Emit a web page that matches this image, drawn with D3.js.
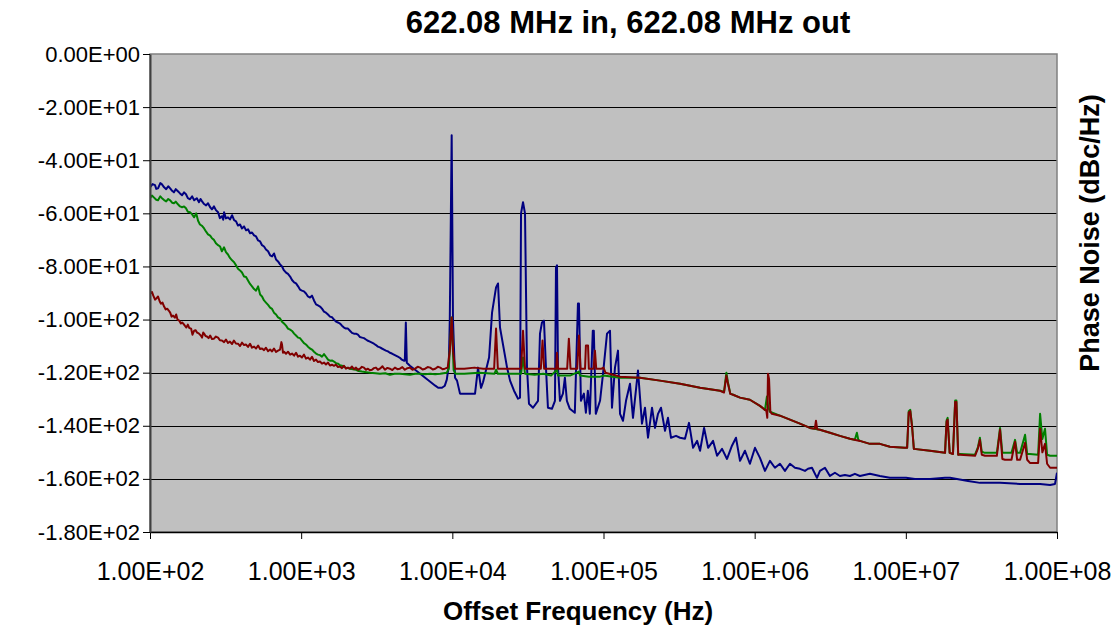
<!DOCTYPE html>
<html><head><meta charset="utf-8">
<script src="https://cdn.jsdelivr.net/npm/d3@7/dist/d3.min.js"></script>
<style>body{margin:0;background:#fff}svg{display:block}text{font-family:"Liberation Sans",Arial,sans-serif;fill:#000}</style>
</head><body>
<svg id="c" width="1119" height="631"></svg>
<script>
const title = "622.08 MHz in, 622.08 MHz out";
const xTitle = "Offset Frequency (Hz)";
const yTitle = "Phase Noise (dBc/Hz)";
const xTickValues = [1e2,1e3,1e4,1e5,1e6,1e7,1e8];
const xTickLabels = ["1.00E+02","1.00E+03","1.00E+04","1.00E+05","1.00E+06","1.00E+07","1.00E+08"];
const yTickValues = [0,-20,-40,-60,-80,-100,-120,-140,-160,-180];
const yTickLabels = ["0.00E+00","-2.00E+01","-4.00E+01","-6.00E+01","-8.00E+01","-1.00E+02","-1.20E+02","-1.40E+02","-1.60E+02","-1.80E+02"];

const blueSeries = [[100,-50.2],[104,-49.0],[108,-49.4],[110,-50.8],[113,-50.6],[117,-48.6],[120,-49.1],[124,-50.2],[128,-50.9],[132,-49.8],[136,-50.6],[140,-51.5],[144,-52.1],[148,-50.9],[153,-51.7],[158,-52.5],[163,-53.2],[168,-52.1],[173,-52.8],[178,-54.3],[184,-54.7],[190,-53.6],[196,-55.1],[204,-54.3],[211,-55.8],[216,-54.6],[221,-55.5],[228,-56.5],[235,-57.0],[242,-56.2],[250,-57.7],[257,-58.5],[265,-57.4],[273,-58.8],[282,-59.6],[290,-61.8],[299,-61.1],[305,-62.4],[309,-59.6],[318,-61.9],[328,-61.5],[338,-62.3],[349,-60.7],[360,-62.6],[371,-63.0],[382,-64.6],[394,-64.2],[406,-65.7],[419,-64.9],[432,-66.4],[445,-66.0],[459,-67.5],[473,-67.2],[488,-68.3],[503,-68.7],[519,-70.2],[535,-70.6],[551,-72.0],[568,-72.5],[585,-73.6],[604,-74.3],[623,-75.8],[642,-76.2],[661,-75.1],[682,-77.4],[703,-78.1],[725,-79.2],[747,-80.0],[770,-81.5],[794,-82.3],[818,-82.8],[845,-83.8],[870,-85.1],[898,-86.0],[925,-86.4],[954,-87.5],[982,-88.7],[1012,-89.1],[1044,-89.4],[1076,-90.2],[1109,-91.3],[1144,-91.7],[1179,-91.0],[1216,-92.8],[1254,-94.3],[1292,-94.7],[1332,-95.1],[1373,-95.9],[1416,-97.0],[1459,-97.4],[1505,-98.1],[1551,-98.9],[1599,-99.1],[1648,-100.0],[1700,-100.8],[1751,-101.1],[1806,-101.5],[1861,-102.3],[1920,-103.0],[1978,-103.4],[2040,-103.4],[2102,-104.2],[2168,-105.0],[2234,-105.3],[2305,-105.3],[2374,-105.7],[2450,-106.6],[2523,-106.8],[2602,-107.0],[2682,-107.5],[2766,-108.0],[2850,-108.3],[2939,-108.7],[3029,-109.1],[3124,-109.6],[3218,-110.2],[3320,-110.5],[3420,-110.9],[3530,-111.3],[3635,-111.7],[3750,-112.0],[3863,-112.5],[3985,-112.8],[4105,-113.2],[4230,-113.6],[4363,-114.0],[4500,-114.4],[4636,-115.1],[4776,-115.5],[4850,-115.5],[4925,-101.1],[5000,-116.3],[5240,-117.4],[5670,-118.9],[6125,-120.4],[6610,-121.9],[7140,-123.4],[7710,-124.9],[8060,-125.7],[8540,-125.7],[8920,-124.9],[9190,-122.6],[9470,-117.4],[9620,-100],[9900,-30.6],[10100,-100],[10420,-121.9],[10740,-123.0],[11240,-127.9],[12130,-127.9],[13090,-127.9],[14130,-127.9],[14790,-118.1],[15480,-125.7],[15960,-123.6],[17500,-114.3],[18310,-97.4],[19460,-87.9],[20060,-86.4],[20670,-103.0],[23020,-118.1],[24090,-123.0],[25590,-126.8],[27210,-129.8],[28040,-129.4],[28470,-60.0],[29350,-55.8],[30250,-60.0],[31180,-118.1],[32140,-131.7],[34160,-133.2],[36890,-130.6],[38010,-105.3],[39180,-101.1],[40380,-100.4],[41620,-118.1],[42900,-133.2],[45590,-133.6],[47740,-130.6],[48490,-80.4],[49240,-79.6],[50000,-118.1],[51530,-130.6],[53900,-127.9],[55550,-121.9],[57250,-130.6],[59880,-133.6],[64620,-135.1],[67760,-94.0],[68800,-94.0],[70910,-130.6],[74180,-127.9],[76460,-135.1],[78800,-126.8],[81220,-135.5],[84960,-104.2],[86280,-104.2],[88930,-135.5],[94840,-130.6],[99300,-120.4],[105500,-105.3],[110400,-104.2],[113800,-133.2],[119100,-118.1],[124700,-111.7],[128600,-135.5],[134600,-138.1],[140900,-130.6],[149700,-124.2],[156700,-137.0],[169100,-119.2],[179700,-139.2],[188100,-133.2],[197000,-144.5],[209400,-133.2],[219200,-140.8],[229400,-135.5],[240100,-133.2],[255200,-141.9],[267100,-137.0],[279600,-144.5],[301800,-143.8],[320800,-144.5],[346000,-144.9],[367900,-138.9],[391200,-148.3],[415900,-145.7],[435300,-149.4],[462800,-140.8],[492000,-148.3],[530700,-145.7],[564200,-151.3],[608500,-148.7],[656300,-152.5],[707700,-147.5],[752400,-144.5],[800000,-153.2],[862700,-149.4],[930000,-154.3],[1005000,-148.3],[1084000,-152.1],[1170000,-157.0],[1262000,-153.2],[1362000,-155.8],[1470000,-154.3],[1586000,-157.0],[1712000,-154.3],[1847000,-155.8],[1993000,-156.2],[2151000,-157.0],[2254000,-156.2],[2394000,-155.8],[2583000,-159.6],[2703000,-157.0],[2917000,-155.8],[3147000,-158.9],[3396000,-157.7],[3664000,-158.9],[3954000,-158.5],[4267000,-158.9],[4604000,-158.1],[4968000,-158.9],[5785000,-158.1],[6736000,-158.9],[7844000,-159.6],[9134000,-159.6],[10030000,-159.6],[11500000,-160.0],[14450000,-160.0],[18170000,-159.6],[19600000,-159.6],[25800000,-160.8],[30940000,-161.5],[42000000,-161.5],[56980000,-161.9],[77330000,-161.9],[90000000,-162.3],[97000000,-161.9],[100000000,-157.7]];

const greenSeries = [[100,-54.3],[103,-53.3],[106,-54.0],[110,-54.9],[113,-55.1],[117,-53.6],[120,-54.3],[124,-55.0],[128,-55.5],[132,-54.6],[136,-55.1],[140,-56.0],[144,-56.2],[148,-55.6],[153,-56.6],[158,-57.4],[163,-57.7],[168,-57.4],[173,-58.1],[178,-59.4],[184,-59.6],[190,-60.4],[196,-61.5],[202,-60.0],[208,-62.8],[214,-64.2],[221,-64.7],[228,-65.7],[235,-66.9],[242,-67.9],[250,-68.4],[257,-69.4],[265,-70.0],[273,-71.3],[282,-72.0],[291,-72.5],[299,-74.3],[309,-72.8],[318,-74.6],[328,-75.5],[338,-76.8],[349,-77.7],[360,-78.4],[371,-79.6],[382,-80.9],[394,-81.5],[406,-82.3],[419,-83.8],[432,-84.0],[445,-85.3],[459,-86.6],[473,-87.5],[488,-88.5],[503,-89.1],[519,-87.5],[535,-90.6],[551,-91.3],[568,-92.8],[585,-93.6],[604,-94.5],[623,-95.5],[642,-96.0],[661,-97.4],[682,-98.1],[703,-99.2],[725,-99.6],[747,-100.8],[770,-101.5],[794,-102.3],[818,-103.4],[845,-103.8],[870,-104.3],[898,-105.3],[925,-106.0],[954,-106.8],[982,-107.0],[1012,-107.9],[1044,-108.9],[1076,-109.4],[1109,-110.2],[1144,-110.9],[1179,-111.3],[1216,-112.1],[1254,-112.8],[1292,-113.2],[1332,-113.4],[1373,-114.0],[1416,-113.0],[1459,-114.0],[1505,-115.1],[1551,-115.5],[1599,-115.4],[1648,-115.8],[1700,-116.4],[1751,-116.6],[1806,-117.2],[1861,-117.4],[1920,-117.8],[1978,-118.1],[2040,-118.3],[2102,-118.5],[2200,-118.7],[2305,-118.9],[2400,-119.4],[2523,-119.6],[2700,-119.8],[2850,-120.0],[3100,-120.2],[3320,-120.4],[3600,-120.2],[3863,-120.8],[4150,-120.4],[4500,-120.4],[4850,-120.6],[5240,-120.8],[5670,-120.4],[6125,-120.4],[6600,-120.6],[7140,-120.4],[7700,-120.6],[8320,-120.4],[9190,-120.0],[9470,-118.5],[9900,-99.2],[10200,-119.0],[10500,-120.4],[12000,-120.4],[15000,-120.0],[19000,-120.4],[19460,-118.9],[20000,-120.4],[25000,-120.4],[28500,-120.4],[29350,-114.3],[30250,-120.4],[35000,-120.8],[40000,-120.4],[45000,-121.1],[49240,-118.9],[50000,-121.1],[60000,-121.1],[68800,-119.6],[70000,-121.1],[80000,-121.5],[95000,-121.5],[100000,-121.1],[128600,-121.9],[174400,-121.9],[236500,-123.0],[320800,-124.2],[435300,-125.7],[590000,-126.8],[627000,-127.2],[650000,-120.0],[665000,-123.5],[690000,-127.9],[720000,-128.3],[800000,-129.4],[930000,-130.2],[1084000,-132.5],[1170000,-134.0],[1205000,-129.0],[1225000,-132.5],[1260000,-134.7],[1470000,-136.2],[1712000,-137.7],[1993000,-139.2],[2321000,-140.8],[2703000,-141.5],[3147000,-142.6],[3664000,-143.8],[4267000,-144.9],[4600000,-145.3],[4744000,-142.6],[4850000,-145.3],[4968000,-145.7],[5785000,-146.8],[6736000,-146.8],[7844000,-147.9],[9800000,-148.3],[10200000,-148.3],[10450000,-134.5],[10700000,-134.0],[11000000,-140.0],[11300000,-148.7],[14450000,-149.4],[18170000,-150.2],[18600000,-138.0],[18900000,-137.0],[19500000,-150.2],[20500000,-150.6],[21200000,-130.5],[21600000,-130.5],[22200000,-150.9],[22830000,-150.6],[28690000,-150.9],[30000000,-148],[30900000,-144.5],[31800000,-149.8],[33400000,-150.2],[40000000,-150.2],[42000000,-140.8],[43500000,-150.2],[45300000,-150.2],[50000000,-150.2],[52800000,-145.3],[54500000,-150.2],[57000000,-150.2],[61500000,-143.4],[63500000,-150.6],[66200000,-150.6],[75000000,-150.9],[77300000,-135.5],[80000000,-145],[83300000,-141.1],[86000000,-150.9],[90000000,-151.3],[100000000,-151.3]];

const redSeries = [[100,-90.2],[103,-89.6],[105,-90.9],[108,-92.5],[110,-92.1],[113,-91.3],[116,-93.2],[118,-94.0],[121,-93.6],[124,-95.1],[127,-96.2],[130,-95.9],[133,-96.6],[136,-97.4],[139,-98.9],[142,-98.5],[146,-99.3],[149,-98.1],[152,-100.0],[156,-100.4],[160,-101.5],[163,-101.1],[167,-101.7],[170,-102.3],[174,-103.0],[178,-101.9],[182,-103.2],[187,-103.4],[191,-105.7],[196,-104.2],[200,-104.0],[205,-104.9],[210,-105.2],[214,-105.7],[218,-106.2],[221,-106.8],[225,-104.9],[228,-105.3],[233,-106.2],[238,-106.4],[244,-107.0],[250,-106.0],[257,-107.3],[265,-107.2],[273,-106.4],[282,-106.8],[290,-107.8],[299,-107.9],[309,-108.5],[318,-107.5],[328,-108.8],[338,-108.3],[349,-109.2],[359,-107.9],[370,-109.0],[382,-109.1],[394,-110.0],[406,-108.7],[419,-109.6],[432,-109.4],[445,-110.3],[459,-109.1],[473,-110.6],[488,-110.2],[503,-110.9],[519,-109.8],[535,-111.1],[551,-110.9],[568,-111.5],[585,-110.6],[604,-111.9],[623,-111.3],[642,-112.0],[661,-110.9],[682,-112.2],[703,-111.7],[725,-111.3],[740,-108.5],[747,-109.4],[758,-112.5],[770,-112.1],[794,-112.9],[818,-112.1],[845,-113.2],[870,-112.8],[898,-113.6],[925,-112.5],[954,-114.0],[982,-113.6],[1012,-114.3],[1044,-113.2],[1076,-114.7],[1109,-114.3],[1144,-115.1],[1179,-114.0],[1216,-115.6],[1254,-115.1],[1292,-116.0],[1332,-115.8],[1373,-116.6],[1416,-116.2],[1459,-116.9],[1505,-116.2],[1551,-117.3],[1599,-117.0],[1648,-117.4],[1700,-117.0],[1751,-117.9],[1806,-117.7],[1861,-118.3],[1920,-117.4],[1978,-118.5],[2040,-118.1],[2102,-118.5],[2168,-117.7],[2234,-118.7],[2305,-118.1],[2374,-118.9],[2450,-118.5],[2523,-117.8],[2602,-118.1],[2682,-118.9],[2766,-118.5],[2850,-119.1],[2939,-118.9],[3029,-118.3],[3124,-118.1],[3218,-118.9],[3320,-118.5],[3450,-117.6],[3583,-118.9],[3720,-118.2],[3863,-118.5],[4010,-119.0],[4170,-118.1],[4330,-118.7],[4500,-118.5],[4670,-117.9],[4850,-118.9],[5040,-118.3],[5240,-118.1],[5450,-118.9],[5670,-118.5],[5900,-117.8],[6125,-118.1],[6360,-118.8],[6610,-118.5],[6870,-117.9],[7140,-118.1],[7420,-118.8],[7710,-118.5],[8010,-117.8],[8320,-118.1],[8620,-118.7],[8920,-118.5],[9320,-118.1],[9620,-111.7],[9900,-99.2],[10110,-111.7],[10420,-118.5],[12000,-118.5],[14000,-118.1],[16000,-118.5],[18900,-118.5],[19460,-103.4],[20000,-118.5],[24000,-118.5],[28500,-118.5],[29350,-104.2],[30250,-118.5],[35000,-118.5],[38500,-118.5],[39500,-107.9],[40500,-118.5],[45000,-118.5],[48700,-118.5],[49240,-112.5],[50000,-118.5],[57500,-118.5],[59000,-107.2],[60500,-118.5],[67000,-118.5],[68800,-106.0],[70500,-118.5],[75500,-118.5],[76500,-109.8],[79000,-109.8],[80000,-118.5],[86000,-118.5],[87800,-111.7],[89500,-118.5],[97000,-118.5],[100000,-118.1],[103000,-120.0],[128600,-121.5],[174400,-121.9],[236500,-123.0],[320800,-124.2],[435300,-125.7],[590000,-126.8],[627000,-127.5],[650000,-121.1],[665000,-124.0],[690000,-128.0],[720000,-128.3],[800000,-129.4],[930000,-130.2],[1084000,-132.5],[1170000,-134.0],[1195000,-134.4],[1212000,-137.0],[1225000,-120.4],[1245000,-122.5],[1270000,-134.7],[1300000,-135.5],[1470000,-136.2],[1712000,-137.7],[1993000,-139.2],[2321000,-140.8],[2500000,-141.1],[2544000,-138.1],[2590000,-141.3],[2703000,-141.5],[3147000,-142.6],[3664000,-143.8],[4267000,-144.9],[4968000,-145.7],[5785000,-146.8],[6736000,-146.8],[7844000,-147.9],[9800000,-148.3],[10200000,-148.3],[10450000,-135.0],[10700000,-134.5],[11000000,-140.5],[11300000,-148.7],[14450000,-149.4],[18170000,-150.2],[18600000,-138.5],[18900000,-137.7],[19500000,-150.2],[20500000,-150.6],[21200000,-131.0],[21600000,-131.0],[22200000,-150.9],[22830000,-150.9],[28690000,-151.3],[30000000,-148.5],[30900000,-145.3],[31800000,-150.9],[33400000,-151.3],[40000000,-151.3],[42000000,-141.5],[43500000,-152.5],[45300000,-152.8],[50000000,-152.8],[52800000,-146.0],[54500000,-152.8],[57000000,-152.8],[61500000,-146.4],[63500000,-152.8],[66200000,-154.0],[75000000,-154.0],[77300000,-141.1],[80000000,-150],[83300000,-146.8],[86000000,-154.3],[90000000,-155.8],[100000000,-155.8]];

const series = [
  {name:"blue", data: blueSeries, color:"#000080"},
  {name:"green", data: greenSeries, color:"#008000"},
  {name:"red", data: redSeries, color:"#800000"}
];

const L = 150, R = 1057, T = 54, B = 532;
const svg = d3.select("#c");
const x = d3.scaleLog().domain([1e2,1e8]).range([L,R]);
const y = d3.scaleLinear().domain([-180,0]).range([B,T]);

svg.append("rect").attr("x",L).attr("y",T).attr("width",R-L).attr("height",B-T).attr("fill","#c0c0c0");

svg.append("g").selectAll("line").data(yTickValues.filter(v=>v!==0 && v!==-180)).join("line")
  .attr("x1",L).attr("x2",R).attr("y1",d=>Math.round(y(d))+0.5).attr("y2",d=>Math.round(y(d))+0.5)
  .attr("stroke","#000").attr("stroke-width",1);

svg.append("rect").attr("x",L).attr("y",T).attr("width",R-L).attr("height",B-T)
  .attr("fill","none").attr("stroke","#808080").attr("stroke-width",1.5);

svg.append("defs").append("clipPath").attr("id","clip").append("rect")
  .attr("x",L).attr("y",T).attr("width",R-L).attr("height",B-T);

const line = d3.line().x(d=>x(d[0])).y(d=>y(d[1]));
svg.append("g").attr("clip-path","url(#clip)").selectAll("path").data(series).join("path")
  .attr("d",d=>line(d.data)).attr("fill","none").attr("stroke",d=>d.color)
  .attr("stroke-width",2).attr("stroke-linejoin","round");

const xAxis = d3.axisBottom(x).tickValues(xTickValues).tickFormat((d,i)=>xTickLabels[i]).tickSize(7).tickSizeOuter(0);
const gx = svg.append("g").attr("transform",`translate(0,${B})`).call(xAxis);
gx.select(".domain").attr("stroke","#000").attr("stroke-width",1.5);
gx.selectAll(".tick line").attr("stroke","#000");
gx.selectAll("text").attr("font-size","25px").attr("y",30).attr("dy","0.71em")
  .style("font-family","'Liberation Sans',Arial,sans-serif").attr("fill","#000");

const yAxis = d3.axisLeft(y).tickValues(yTickValues).tickFormat((d,i)=>yTickLabels[i]).tickSize(7).tickSizeOuter(0);
const gy = svg.append("g").attr("transform",`translate(${L},0)`).call(yAxis);
gy.select(".domain").attr("stroke","#404040").attr("stroke-width",2);
gy.selectAll(".tick line").attr("stroke","#000");
gy.selectAll("text").attr("font-size","22px").attr("x",-10)
  .style("font-family","'Liberation Sans',Arial,sans-serif").attr("fill","#000");

svg.append("text").attr("x",628).attr("y",33).attr("text-anchor","middle")
  .attr("font-size","31px").attr("font-weight","bold").text(title);
svg.append("text").attr("x",578).attr("y",620).attr("text-anchor","middle")
  .attr("font-size","26px").attr("font-weight","bold").text(xTitle);
svg.append("text").attr("transform","translate(1099,233) rotate(-90)").attr("text-anchor","middle")
  .attr("font-size","27px").attr("font-weight","bold").text(yTitle);
</script>
</body></html>
